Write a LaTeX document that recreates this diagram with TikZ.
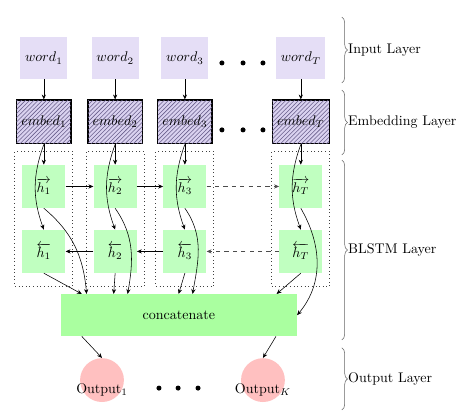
\documentclass[tikz,border=0pt]{standalone}
\usetikzlibrary{arrows.meta,patterns,fit,decorations.pathreplacing}
\definecolor{wordcol}{RGB}{229,222,246}
\definecolor{embedcol}{RGB}{218,210,240}
\definecolor{hatchcol}{RGB}{105,95,140}
\definecolor{hcol}{RGB}{192,255,192}
\definecolor{catcol}{RGB}{170,255,160}
\definecolor{outcol}{RGB}{255,192,192}
\begin{document}
\begin{tikzpicture}[>={Stealth[length=3.5pt,width=3pt]},
  wordbox/.style={fill=wordcol, minimum width=1.15cm, minimum height=1.05cm},
  embedbox/.style={draw, thick, fill=embedcol, postaction={pattern=north east lines, pattern color=hatchcol}, minimum width=1.36cm, minimum height=1.1cm},
  hbox/.style={fill=hcol, minimum size=1.08cm},
  cellbox/.style={draw, dotted, semithick, black!75, inner xsep=0.18cm, inner ysep=0.33cm},
  catbox/.style={fill=catcol, minimum width=5.92cm, minimum height=1.05cm},
  outnode/.style={circle, fill=outcol, minimum size=1.1cm},
  layerbrace/.style={decorate, decoration={brace, amplitude=4pt}, black!60}]
\useasboundingbox (0,0) rectangle (11.47,-10.54);
\node[wordbox] (w1) at (1.10,-1.46) {$word_1$};
\node[wordbox] (w2) at (2.89,-1.46) {$word_2$};
\node[wordbox] (w3) at (4.64,-1.46) {$word_3$};
\node[wordbox] (wT) at (7.55,-1.46) {$word_T$};
\node[embedbox] (e1) at (1.10,-3.06) {$embed_1$};
\node[embedbox] (e2) at (2.89,-3.06) {$embed_2$};
\node[embedbox] (e3) at (4.64,-3.06) {$embed_3$};
\node[embedbox] (eT) at (7.55,-3.06) {$embed_T$};
\node[hbox] (f1) at (1.10,-4.68) {$\overrightarrow{h_1}$};
\node[hbox] (f2) at (2.89,-4.68) {$\overrightarrow{h_2}$};
\node[hbox] (f3) at (4.64,-4.68) {$\overrightarrow{h_3}$};
\node[hbox] (fT) at (7.55,-4.68) {$\overrightarrow{h_T}$};
\node[hbox] (b1) at (1.10,-6.31) {$\overleftarrow{h_1}$};
\node[hbox] (b2) at (2.89,-6.31) {$\overleftarrow{h_2}$};
\node[hbox] (b3) at (4.64,-6.31) {$\overleftarrow{h_3}$};
\node[hbox] (bT) at (7.55,-6.31) {$\overleftarrow{h_T}$};
\node[cellbox, fit=(f1)(b1)] (c1) {};
\node[cellbox, fit=(f2)(b2)] (c2) {};
\node[cellbox, fit=(f3)(b3)] (c3) {};
\node[cellbox, fit=(fT)(bT)] (cT) {};
\node[catbox] (cat) at (4.49,-7.91) {concatenate};
\node[outnode, label={[yshift=-0.25cm]center:Output$_1$}] (o1) at (2.56,-9.54) {};
\node[outnode, label={[yshift=-0.25cm]center:Output$_K$}] (oK) at (6.60,-9.54) {};
\fill (5.57,-1.58) circle (1.8pt);
\fill (6.10,-1.58) circle (1.8pt);
\fill (6.60,-1.58) circle (1.8pt);
\fill (5.57,-3.26) circle (1.8pt);
\fill (6.10,-3.26) circle (1.8pt);
\fill (6.60,-3.26) circle (1.8pt);
\fill (3.99,-9.74) circle (1.8pt);
\fill (4.47,-9.74) circle (1.8pt);
\fill (4.97,-9.74) circle (1.8pt);
\draw[->] (w1) -- (e1);
\draw[->] (w2) -- (e2);
\draw[->] (w3) -- (e3);
\draw[->] (wT) -- (eT);
\draw[->] (e1) -- (f1);
\draw[->] (e2) -- (f2);
\draw[->] (e3) -- (f3);
\draw[->] (eT) -- (fT);
\draw[->] (e1.south) to[out=-110,in=110] (b1.north);
\draw[->] (e2.south) to[out=-110,in=110] (b2.north);
\draw[->] (e3.south) to[out=-110,in=110] (b3.north);
\draw[->] (eT.south) to[out=-110,in=110] (bT.north);
\draw[->] (f1) -- (f2);
\draw[->] (f2) -- (f3);
\draw[->, dashed, black!70] (f3) -- (fT);
\draw[->] (b2) -- (b1);
\draw[->] (b3) -- (b2);
\draw[->, dashed, black!70] (bT) -- (b3);
\draw[->] (f1.south) to[out=-40,in=95] ([xshift=0.65cm]cat.north west);
\draw[->] (f2.south) to[out=-55,in=80] ([xshift=1.68cm]cat.north west);
\draw[->] (f3.south) to[out=-55,in=80] ([xshift=3.31cm]cat.north west);
\draw[->] (fT.south) to[out=-60,in=50] (cat.east);
\draw[->] (b1.south) -- ([xshift=0.53cm]cat.north west);
\draw[->] (b2.south) -- ([xshift=1.33cm]cat.north west);
\draw[->] (b3.south) -- ([xshift=2.96cm]cat.north west);
\draw[->] (bT.south) -- ([xshift=5.42cm]cat.north west);
\draw[->] ([xshift=0.53cm]cat.south west) -- (o1.north);
\draw[->] ([xshift=-0.53cm]cat.south east) -- (oK.north);
\coordinate (inTop) at (8.58,-0.43);
\coordinate (inBot) at (8.58,-2.08);
\coordinate (emTop) at (8.58,-2.26);
\coordinate (emBot) at (8.58,-3.89);
\coordinate (lsTop) at (8.58,-4.02);
\coordinate (lsBot) at (8.58,-8.53);
\coordinate (ouTop) at (8.58,-8.73);
\coordinate (ouBot) at (8.58,-10.29);
\draw[layerbrace] (inTop) -- (inBot) node[midway, right=1pt, black] (inLab) {Input Layer};
\draw[layerbrace] (emTop) -- (emBot) node[midway, right=1pt, black] (emLab) {Embedding Layer};
\draw[layerbrace] (lsTop) -- (lsBot) node[midway, right=1pt, black] (lsLab) {BLSTM Layer};
\draw[layerbrace] (ouTop) -- (ouBot) node[midway, right=1pt, black] (ouLab) {Output Layer};
\end{tikzpicture}
\end{document}
